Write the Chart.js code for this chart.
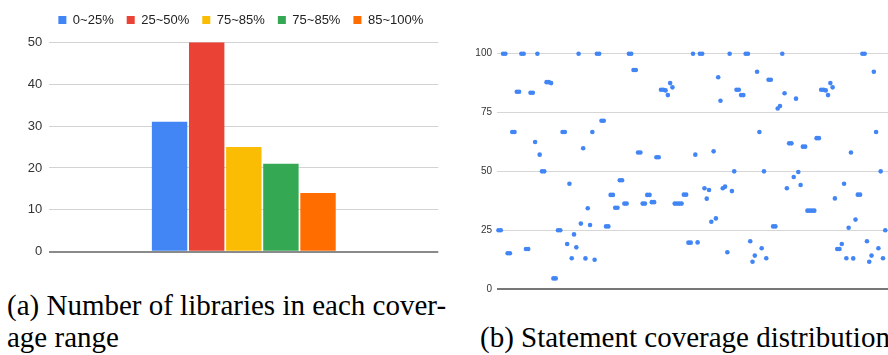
<!DOCTYPE html>
<html>
<head>
<meta charset="utf-8">
<script src="https://cdn.jsdelivr.net/npm/chart.js@4/dist/chart.umd.min.js"></script>
<style>
  html, body { margin: 0; padding: 0; background: #fff; width: 888px; height: 355px; overflow: hidden; }
  canvas { position: absolute; top: 0; }
  #coverageBars { left: 0; }
  #coverageScatter { left: 460px; }
  .cap {
    position: absolute;
    font-family: "Liberation Serif", "Times New Roman", serif;
    font-size: 29px;
    line-height: 32px;
    color: #000;
    white-space: nowrap;
  }
</style>
</head>
<body>
<canvas id="coverageBars" width="460" height="270"></canvas>
<canvas id="coverageScatter" width="470" height="300"></canvas>
<div class="cap" style="left:7px; top:289px;">(a) Number of libraries in each cover-<br>age range</div>
<div class="cap" style="left:480px; top:321px;">(b) Statement coverage distribution</div>

<script>
// (a) libraries per coverage range
const rangeCategories = [''];
const rangeLabels = ['0~25%', '25~50%', '75~85%', '75~85%', '85~100%'];
const libraryCounts = [31, 50, 25, 21, 14];
const countTicks = [0, 10, 20, 30, 40, 50];

// (b) statement coverage (%) of each library, in library order
const statementCoverage = [
  25, 25, 100, 100, 15.2, 15.2, 66.7, 66.7, 83.8, 83.8,
  100, 100, 17, 17, 83.4, 83.4, 62.5, 100, 57.1, 50,
  50, 87.9, 87.9, 87.5, 4.5, 4.5, 25, 25, 66.7, 66.7,
  19.1, 44.7, 13.1, 23.2, 17.7, 100, 27.8, 59.8, 13, 34.3,
  27.2, 66.7, 12.4, 100, 100, 71.5, 71.5, 26.6, 26.6, 40,
  40, 34.5, 34.5, 46.2, 46.2, 36.3, 36.3, 100, 100, 93.1,
  93.1, 58, 58, 36.3, 36.3, 40, 40, 36.9, 36.9, 56,
  56, 84.7, 84.7, 84.4, 82.4, 87.5, 85.7, 36.3, 36.3, 36.3,
  36.3, 40.1, 40.1, 19.7, 19.7, 100, 57.1, 19.8, 100, 100,
  42.8, 38.4, 42.1, 28.6, 58.5, 30, 90, 80, 42.8, 43.5,
  15.6, 100, 41.6, 50, 84.7, 84.7, 82.4, 82.4, 100, 100,
  20.3, 11.6, 14.2, 92.3, 66.7, 17.3, 50, 13.1, 88.9, 88.9,
  26.6, 26.6, 76.7, 77.8, 100, 83.2, 42.8, 61.9, 61.9, 47.6,
  80.9, 49.7, 44.2, 60.5, 60.5, 33.3, 33.3, 33.3, 33.3, 64.1,
  64.1, 84.7, 84.7, 84.4, 82.4, 87.5, 85.7, 38.5, 17, 17,
  19.1, 44.7, 13.1, 26, 58, 13, 29.5, 40.1, 40.1, 100,
  100, 20.3, 11.6, 14.2, 92.3, 66.7, 17.3, 50, 13.1, 25
];
const coverageTicks = [0, 25, 50, 75, 100];

const palette = ['#4285F4', '#EA4335', '#FBBC04', '#34A853', '#FF6D01'];
const sansFont = 'Arial, "Liberation Sans", sans-serif';

// Lets the one-row legend run a little past the plot edges and leaves a gap under it
const legendFit = {
  id: 'legendFit',
  beforeLayout(chart) {
    const legend = chart.legend;
    if (!legend || legend.$fitPatched) return;
    const fit = legend.fit;
    const draw = legend.draw;
    legend.fit = function () {
      const w = this.maxWidth;
      this.maxWidth = w + 60;
      fit.call(this);
      this.maxWidth = w;
      this.width = Math.min(this.width, w);
      this.height += 5.8;
    };
    legend.draw = function () {
      const l = this.left, r = this.right;
      this.left = l - 24;
      this.right = r + 18;
      draw.call(this);
      this.left = l;
      this.right = r;
    };
    legend.$fitPatched = true;
  }
};

const gridColor = (zeroColor, lineColor) => (ctx) => (ctx.tick && ctx.tick.value === 0 ? zeroColor : lineColor);
const gridWidth = (ctx) => (ctx.tick && ctx.tick.value === 0 ? 2 : 1);

new Chart(document.getElementById('coverageBars'), {
  type: 'bar',
  data: {
    labels: rangeCategories,
    datasets: rangeLabels.map((label, i) => ({
      label,
      data: [libraryCounts[i]],
      backgroundColor: palette[i],
      borderWidth: 0,
      categoryPercentage: 0.477,
      barPercentage: 0.954
    }))
  },
  options: {
    responsive: false,
    animation: false,
    events: [],
    layout: { padding: { top: 0.5, right: 21.7, bottom: 18.3, left: 0 } },
    plugins: {
      legend: {
        position: 'top',
        fullSize: false,
        labels: {
          boxWidth: 8,
          boxHeight: 8,
          padding: 13,
          color: '#222',
          font: { family: sansFont, size: 13 }
        }
      },
      tooltip: { enabled: false }
    },
    scales: {
      x: { display: false, offset: true },
      y: {
        min: 0,
        max: 50,
        afterBuildTicks: (scale) => { scale.ticks = countTicks.map(v => ({ value: v })); },
        afterFit: (scale) => { scale.width = 49.3; },
        ticks: { padding: 7, color: '#333', font: { family: sansFont, size: 13 } },
        grid: { drawTicks: false, color: gridColor('#8a8a8a', '#d3d3d3'), lineWidth: gridWidth },
        border: { display: false }
      }
    }
  },
  plugins: [legendFit]
});

new Chart(document.getElementById('coverageScatter'), {
  type: 'scatter',
  data: {
    datasets: [{
      label: 'Statement coverage',
      data: statementCoverage.map((v, i) => ({ x: i + 1, y: v })),
      pointRadius: 2.3,
      pointBackgroundColor: '#4285F4',
      pointBorderWidth: 0,
      clip: false
    }]
  },
  options: {
    responsive: false,
    animation: false,
    events: [],
    layout: { padding: { top: 53.7, right: 0, bottom: 9.3, left: 0 } },
    plugins: { legend: { display: false }, tooltip: { enabled: false } },
    scales: {
      x: { type: 'linear', display: false, min: 0.35, max: 187.8 },
      y: {
        min: 0,
        max: 100,
        afterBuildTicks: (scale) => { scale.ticks = coverageTicks.map(v => ({ value: v })); },
        afterFit: (scale) => { scale.width = 37; },
        ticks: { padding: 5, color: '#333', font: { family: sansFont, size: 10 } },
        grid: { drawTicks: false, color: gridColor('#777', '#d6d6d6'), lineWidth: gridWidth },
        border: { display: false }
      }
    }
  }
});
</script>
</body>
</html>
